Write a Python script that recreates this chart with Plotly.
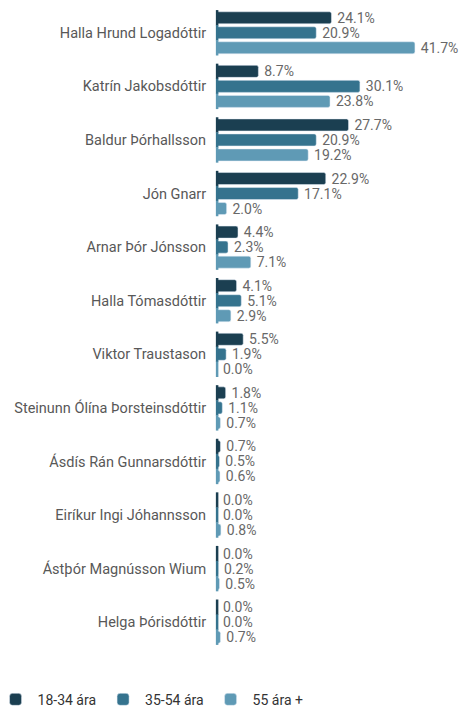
import plotly.graph_objects as go

candidates = [
    "Halla Hrund Logadóttir", "Katrín Jakobsdóttir", "Baldur Þórhallsson", "Jón Gnarr",
    "Arnar Þór Jónsson", "Halla Tómasdóttir", "Viktor Traustason",
    "Steinunn Ólína Þorsteinsdóttir", "Ásdís Rán Gunnarsdóttir", "Eiríkur Ingi Jóhannsson",
    "Ástþór Magnússon Wium", "Helga Þórisdóttir",
]
age_18_34 = [24.1, 8.7, 27.7, 22.9, 4.4, 4.1, 5.5, 1.8, 0.7, 0.0, 0.0, 0.0]
age_35_54 = [20.9, 30.1, 20.9, 17.1, 2.3, 5.1, 1.9, 1.1, 0.5, 0.0, 0.2, 0.0]
age_55_plus = [41.7, 23.8, 19.2, 2.0, 7.1, 2.9, 0.0, 0.7, 0.6, 0.8, 0.5, 0.7]
series_names = ["18-34 ára", "35-54 ára", "55 ára +"]
colors = ["#1b3f51", "#35738e", "#5f9ab5"]

font_family = "Roboto, Arial, sans-serif"
fig = go.Figure()
for name, vals, col in zip(series_names, [age_18_34, age_35_54, age_55_plus], colors):
    fig.add_trace(go.Bar(
        y=candidates, x=vals, name=name, orientation="h",
        marker=dict(color=col, cornerradius=2),
        text=[f"\u2009{v:.1f}%" for v in vals], textposition="outside",
        constraintext="none",
        textfont=dict(size=14, color="#686868", family=font_family),
        cliponaxis=False, offsetgroup=name,
    ))
for name, vals, col in zip(series_names, [age_18_34, age_35_54, age_55_plus], colors):
    fig.add_trace(go.Scatter(
        y=candidates, x=[0] * len(vals), mode="markers", offsetgroup=name,
        orientation="h",
        marker=dict(symbol="line-ns", size=11, line=dict(width=2.5, color=col), color=col),
        showlegend=False, hoverinfo="skip", cliponaxis=False,
    ))

fig.update_layout(
    width=460, height=708,
    margin=dict(l=0, r=0, t=6, b=59, autoexpand=False),
    barmode="group", bargap=0.16, bargroupgap=0.2,
    scattermode="group", scattergap=0.16,
    plot_bgcolor="white", paper_bgcolor="white",
    font=dict(family=font_family, size=14.5, color="#585858"),
    showlegend=True,
    legend=dict(orientation="h", x=-0.014, xanchor="left", y=-0.054, yanchor="top",
                itemwidth=34,
                font=dict(size=14, color="#333333"), traceorder="normal"),
    xaxis=dict(domain=[0.472, 1], range=[0, 51.2], showticklabels=False, tickvals=[0],
               showgrid=True, gridcolor="#d6d6d6", griddash="dot", gridwidth=1,
               zeroline=False, showline=False, ticks=""),
    yaxis=dict(autorange="reversed", ticks="", ticklabelstandoff=10,
               tickfont=dict(size=14.5, color="#585858"), showgrid=False, showline=False),
)
fig.write_html("out.html", config={"displayModeBar": False},
               post_script="document.body.style.margin='0';document.body.style.overflow='hidden';")
